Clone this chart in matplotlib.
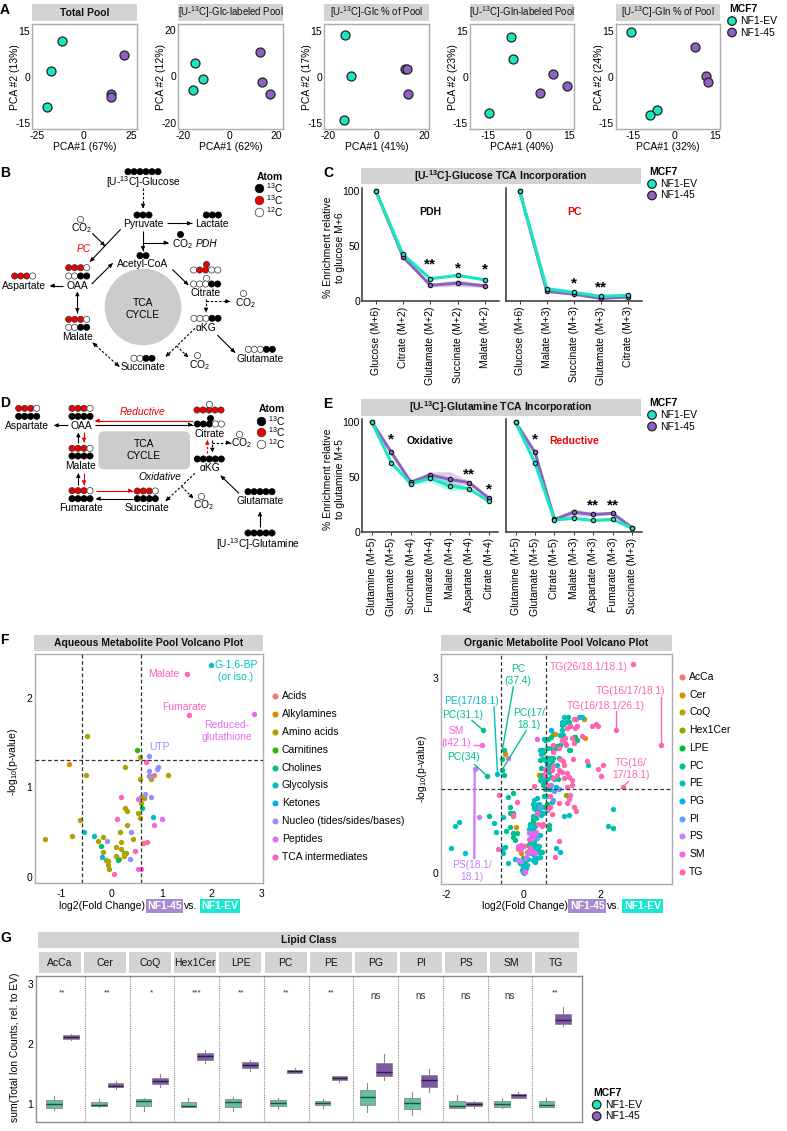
"""
Multi-panel figure: PCA plots, isotope tracing schematics, enrichment lines,
volcano plots and lipid class boxplots.
"""
import numpy as np
import matplotlib
matplotlib.use('Agg')
import matplotlib.pyplot as plt
from matplotlib.patches import Rectangle, Circle, FancyBboxPatch

plt.rcParams['font.family'] = ['Liberation Sans', 'DejaVu Sans']
plt.rcParams['mathtext.default'] = 'regular'
plt.rcParams['axes.unicode_minus'] = False

W, H = 787, 1131
EV_COLOR = '#17E8C0'
KO_COLOR = '#8E62C2'
STRIP = '#D3D3D3'
FRAME = '#ADADAD'
FS = 7.5

# --- panel A: PCA scores (x: PCA#1, y: PCA#2) ---
pca_titles = ['Total Pool', '[U-$^{13}$C]-Glc-labeled Pool', '[U-$^{13}$C]-Glc % of Pool',
              '[U-$^{13}$C]-Gln-labeled Pool', '[U-$^{13}$C]-Gln % of Pool']
pca_xlabels = ['PCA#1 (67%)', 'PCA#1 (62%)', 'PCA#1 (41%)', 'PCA#1 (40%)', 'PCA#1 (32%)']
pca_ylabels = ['PCA #2 (13%)', 'PCA #2 (12%)', 'PCA #2 (17%)', 'PCA #2 (23%)', 'PCA #2 (24%)']
pca_xticks = [[-25, 0, 25], [-20, 0, 20], [-20, 0, 20], [-15, 0, 15], [-15, 0, 15]]
pca_yticks = [[-15, 0, 15], [-20, 0, 20], [-15, 0, 15], [-15, 0, 15], [-15, 0, 15]]
pca_xlims = [(-27.5, 28), (-22.1, 22.6), (-21.8, 22), (-21.7, 16.9), (-21.3, 16.8)]
pca_ylims = [(-16.8, 17), (-22.6, 22.3), (-17, 17), (-17, 17), (-17, 17)]
pca_ev_x = [[-11.5, -17.4, -19.7], [-15, -11.6, -15.6], [-13.1, -10.4, -13.6],
            [-6.4, -5.8, -14.8], [-15.7, -6.3, -8.6]]
pca_ev_y = [[11.8, 1.9, -9.6], [5.6, -1, -6], [13.5, 0.3, -14],
            [12.8, 5.8, -11.8], [14.6, -10.8, -12.4]]
pca_ko_x = [[21.1, 14.5, 14.5], [13.1, 13.6, 17.1], [12.0, 13.0, 13.2],
            [9.1, 14.3, 4.1], [7.8, 11.8, 12.4]]
pca_ko_y = [[7.2, -5.5, -6.4], [10.6, -2.3, -7.6], [2.5, 2.5, -5.5],
            [0.8, -3, -5.2], [9.7, 0.2, -1.8]]

# --- panels C, E: enrichment ---
c_pdh_labels = ['Glucose (M+6)', 'Citrate (M+2)', 'Glutamate (M+2)', 'Succinate (M+2)', 'Malate (M+2)']
c_pdh_ev = [100, 42, 20, 23, 19]
c_pdh_ko = [100, 40, 14, 16, 13.5]
c_pdh_ev_err = [0, 1.5, 1, 1, 1]
c_pdh_ko_err = [0, 2.5, 1.5, 3, 1.5]
c_pdh_stars = ['', '', '**', '*', '*']
c_pdh_star_y = [0, 0, 33, 29.7, 28]

c_pc_labels = ['Glucose (M+6)', 'Malate (M+3)', 'Succinate (M+3)', 'Glutamate (M+3)', 'Citrate (M+3)']
c_pc_ev = [100, 11, 7.5, 4, 5]
c_pc_ko = [100, 8.5, 6, 2, 3.5]
c_pc_ev_err = [0, 1.5, 0.8, 0.5, 0.5]
c_pc_ko_err = [0, 1, 0.8, 0.5, 0.5]
c_pc_stars = ['', '', '*', '**', '']
c_pc_star_y = [0, 0, 15.8, 11.8, 0]

e_ox_labels = ['Glutamine (M+5)', 'Glutamate (M+5)', 'Succinate (M+4)', 'Fumarate (M+4)',
               'Malate (M+4)', 'Aspartate (M+4)', 'Citrate (M+4)']
e_ox_ev = [100, 63, 44, 49, 42, 39.5, 28]
e_ox_ko = [100, 72.5, 45.5, 52, 48, 45, 31]
e_ox_ev_err = [0, 1, 1, 3.5, 4.5, 1, 1]
e_ox_ko_err = [0, 1, 1, 3, 7, 1.5, 1]
e_ox_stars = ['', '*', '', '', '', '**', '*']
e_ox_star_y = [0, 84, 0, 0, 0, 52, 39]

e_red_labels = ['Glutamine (M+5)', 'Glutamate (M+5)', 'Citrate (M+5)', 'Malate (M+3)',
                'Aspartate (M+3)', 'Fumarate (M+3)', 'Succinate (M+3)']
e_red_ev = [100, 63, 11, 12.5, 10.5, 11.5, 3.5]
e_red_ko = [100, 72.5, 11.5, 18, 16, 17, 4]
e_red_ev_err = [0, 1, 1, 1, 1, 1, 0.5]
e_red_ko_err = [0, 1, 1, 3.5, 1.5, 1, 0.5]
e_red_stars = ['', '*', '', '', '**', '**', '']
e_red_star_y = [0, 84, 0, 0, 24.3, 24.3, 0]

# --- panel F: aqueous volcano (log2 FC, -log10 p) ---
aq_names = ['Acids', 'Alkylamines', 'Amino acids', 'Carnitines', 'Cholines', 'Glycolysis',
            'Ketones', 'Nucleo (tides/sides/bases)', 'Peptides', 'TCA intermediates']
aq_colors = ['#F8766D', '#DB8E00', '#AEA200', '#2CB600', '#00BF7D', '#00BFC4',
             '#00B0F6', '#9590FF', '#E76BF3', '#FF62BC']
aq_acids = [(.84, 1.13), (.62, .37)]
aq_alkyl = [(-.85, 1.26)]
aq_amino = [(-.50, 1.57), (.57, 1.34), (.27, 1.22), (-.51, 1.13), (.56, 1.09), (.79, 1.09),
            (1.13, 1.13), (.75, 1.12), (.59, .89), (.65, .88), (.59, .82), (.26, .77),
            (.31, .73), (.53, .71), (.57, .65), (-.63, .63), (.31, .58), (-1.33, .42),
            (-.79, .45), (.17, .50), (-.17, .44), (-.27, .40), (.18, .39), (.42, .42),
            (.09, .33), (.18, .31), (-.17, .27), (.25, .26), (.29, .26), (.24, .23),
            (.09, .23), (.15, .20), (-.11, .18), (-.07, .17), (-.07, .13), (-.05, .09)]
aq_carn = [(.50, 1.41)]
aq_chol = [(.61, .77), (-.22, .34), (.13, .19)]
aq_glyc = [(1.98, 2.37), (.83, .67), (-.55, .50), (-.36, .45)]
aq_ket = [(-.19, .22)]
aq_nucl = [(.75, 1.35), (.74, 1.18), (.92, 1.22), (.91, 1.20), (.76, 1.12), (.66, .92),
           (.79, .89), (.38, .50), (-.09, .40), (.37, .20)]
aq_pept = [(2.84, 1.82), (.52, .87), (1.01, .64), (.85, .58), (.53, .09)]
aq_tca = [(1.51, 2.26), (1.55, 1.81), (.69, 1.28), (.18, .89), (.11, .64), (.70, .39),
          (.47, .29), (.05, .03), (.58, .08)]
aq_groups = [aq_acids, aq_alkyl, aq_amino, aq_carn, aq_chol, aq_glyc, aq_ket, aq_nucl, aq_pept, aq_tca]

# --- panel F: organic volcano ---
org_names = ['AcCa', 'Cer', 'CoQ', 'Hex1Cer', 'LPE', 'PC', 'PE', 'PG', 'PI', 'PS', 'SM', 'TG']
org_colors = ['#F8766D', '#DE8C00', '#B79F00', '#7CAE00', '#00BA38', '#00C08B', '#00BFC4',
              '#00B4F0', '#619CFF', '#C77CFF', '#F564E3', '#FF64B0']
org_acca = [(.54, 1.41), (-.13, .37)]
org_cer = [(-.48, 1.83), (1.56, 2.38), (1.21, 2.27), (.78, 2.14), (1.60, 2.08), (-.19, .71),
           (-.26, .88), (-.13, .39), (-.05, .30), (.10, .32), (0, .11), (.62, 1.77),
           (.60, 1.29), (.41, 1.51)]
org_coq = [(1.57, 2.37), (.82, 2.14), (.48, 1.41), (.52, 1.41), (.41, 1.51), (.60, 1.74)]
org_hex = [(1.10, 1.20), (.56, 1.41), (.13, .43), (.16, .34), (0, .10), (.60, 1.77)]
org_lpe = [(.60, 1.77), (.85, 1.93), (1.34, 2.09), (.60, 1.06), (-.10, .16)]
org_pc = [(-1.04, 2.20), (-.95, 1.50), (-.49, 1.89), (-.56, 1.75), (-.5, 1.51), (-.56, 1.58),
          (-.89, .88), (2.31, .70), (1.02, 2.30), (1.15, 2.40), (1.38, 2.05), (1.18, 1.89),
          (.72, 1.92), (.65, 2.06), (.84, 1.95), (.48, 1.90), (.91, 1.77), (.78, 1.77),
          (.43, 1.74), (.60, 1.66), (.69, 1.66), (.48, 1.51), (.62, 1.45), (.50, 1.36),
          (.54, 1.19), (-.41, 1.17), (-.27, 1.24), (-.35, 1.01), (-.35, .92), (-.26, .92),
          (-.35, .71), (-.45, .64), (-.26, .61), (-.17, .61), (-.26, .56), (-.22, .51),
          (.17, .76), (.22, .69), (.67, .74), (.67, .68), (.36, .41), (.22, .41), (-.48, .40),
          (.13, .33), (0, .23), (.04, .15), (0, .10), (-.04, .05), (.48, .33), (.36, 1.05),
          (.28, 1), (.52, 1.02), (.26, .79), (.17, .64), (.99, 2.28), (1.18, 2.33),
          (.72, 2.10), (.56, 2.05), (.50, 1.85), (.66, 1.55), (.75, 1.73), (.30, .55),
          (.18, .50), (.28, .35), (.34, .85), (.38, .92), (.24, .83), (.20, .60), (.28, .48),
          (.38, .36), (.46, 1.62), (.52, 1.75), (.68, 1.30), (.72, 1.48), (.90, 1.45),
          (1.20, 1.90), (.95, 1.98), (1.30, 2.10), (1.02, 2.12), (.62, 1.92)]
org_pe = [(-.67, 1.53), (-1.88, .39), (-1.50, .31), (-1.77, .72), (-1.66, .79), (-.76, .77),
          (-.71, .63), (-.52, .87), (-.40, .16), (-.52, .30), (-.21, .21), (2.33, .99),
          (2.19, .73), (1.68, 1.67), (1.04, 2.40), (1.43, 2.40), (1.51, 2.40), (.99, 2.20),
          (.54, 2.06), (.43, 1.90), (.45, 1.84), (.59, 1.72), (.60, 1.56), (.69, 1.77),
          (.86, 1.66), (.54, 1.43), (.44, 1.43), (.28, 1.12), (.35, 1.15), (.24, 1.07),
          (.41, 1.07), (.60, .97), (.46, .89), (1.05, .88), (1.17, .89), (.35, .95),
          (.26, .88), (.16, .74), (.31, .73), (.84, .39), (.41, .41), (.35, .38), (.28, .28),
          (.09, .12), (.04, .05), (0, .02), (-.02, .07), (.17, .41), (-.52, .38), (.41, .32),
          (.35, .23), (.75, 1.10), (.80, 1.45), (.58, 1.18), (1.0, 2.32), (.22, .55),
          (.24, .20), (.30, .17), (-.05, .15), (.02, .06), (.30, .62), (.24, .66), (.43, .58),
          (.40, .95), (.30, .98), (.50, .92), (.14, .68), (.20, .30), (.30, .38), (.42, .25),
          (.12, .22), (.08, .08), (.56, 1.30), (.70, 1.60), (.76, 1.90), (.95, 2.12), (1.10, 2.32)]
org_pg = [(.71, 2.20), (.95, .33), (.02, 0), (.85, 1.32)]
org_pi = [(.72, 1.36), (.91, 1.30), (.78, 1.12), (.35, .54), (.43, 1.01), (.80, 1.27), (.02, .03)]
org_ps = [(-1.26, 1.61), (-1.16, .86), (-.13, .20), (-.07, .19), (.22, .53), (.13, .30),
          (.15, .62), (.03, .02), (-.05, .38), (.28, .32), (.08, .24)]
org_sm = [(-1.08, 1.97), (.35, 2.06), (-.41, 1.77), (.26, .61), (.33, .63), (-.13, .41),
          (-.07, .43), (.22, .33), (.17, .38), (.26, .58), (-.09, .35), (.04, .01), (.56, 1.60),
          (.14, .34), (.15, .52), (.02, .42), (.30, .30)]
org_tg = [(2.83, 3.22), (2.41, 2.20), (3.57, 1.97), (2.57, 1.32), (1.77, 2.27), (1.88, 2.30),
          (1.94, 2.26), (1.52, 2.11), (1.25, 2.08), (1.08, 2.08), (1.34, 2.23), (1.38, 2.27),
          (1.31, 2.38), (1.37, 2.38), (1.21, 2.27), (1.12, 2.23), (.99, 2.05), (.78, 1.98),
          (1.08, 2.01), (.91, 1.92), (.78, 1.87), (1.28, 1.76), (2.07, 1.66), (1.93, 1.60),
          (2.0, 1.5), (1.66, 1.72), (1.04, 1.66), (.91, 1.58), (1.0, 1.56), (.78, 1.65),
          (.75, 1.58), (1.12, 1.54), (1.17, 1.48), (1.25, 1.43), (1.04, 1.46), (.86, 1.51),
          (.78, 1.46), (.56, 1.58), (.56, 1.51), (.28, 1.34), (.63, 1.35), (1.25, 1.36),
          (1.12, 1.33), (1.21, 1.20), (1.19, 1.14), (1.12, 1.08), (.91, 1.08), (1.32, 1.02),
          (1.35, .95), (.69, 1.02), (.64, .99), (.73, .91), (-.17, 1.10), (-.62, 1.20),
          (.52, .76), (.37, .76), (.93, .49), (.81, .24), (-.66, .37), (-.26, .89), (.70, 1.18),
          (1.10, 1.98), (1.30, 2.0), (.95, 1.75), (1.02, 1.72), (.35, .92), (.48, .72)]
org_groups = [org_acca, org_cer, org_coq, org_hex, org_lpe, org_pc, org_pe, org_pg, org_pi,
              org_ps, org_sm, org_tg]

# --- panel G: lipid class boxes (low whisker, q1, median, q3, high whisker) ---
lipid_classes = org_names
lipid_sig = ['**', '**', '*', '***', '**', '**', '**', 'ns', 'ns', 'ns', 'ns', '**']
lipid_ev = [(.89, .93, 1.0, 1.06, 1.12), (.94, .96, .98, 1.03, 1.08), (.88, .96, 1.04, 1.07, 1.09),
            (.95, .95, .96, 1.03, 1.10), (.88, .94, 1.03, 1.07, 1.11), (.91, .96, 1.01, 1.06, 1.09),
            (.93, .97, 1.01, 1.04, 1.07), (.86, .98, 1.11, 1.22, 1.34), (.81, .91, 1.01, 1.10, 1.19),
            (.92, .93, .96, 1.05, 1.14), (.92, .95, .99, 1.04, 1.09), (.94, .95, .97, 1.04, 1.09)]
lipid_ko = [(2.06, 2.08, 2.11, 2.14, 2.16), (1.25, 1.27, 1.29, 1.34, 1.37), (1.28, 1.32, 1.38, 1.43, 1.49),
            (1.67, 1.73, 1.79, 1.84, 1.89), (1.54, 1.59, 1.65, 1.69, 1.73), (1.51, 1.51, 1.54, 1.56, 1.60),
            (1.36, 1.40, 1.43, 1.46, 1.46), (1.40, 1.46, 1.52, 1.67, 1.82), (1.19, 1.28, 1.39, 1.48, 1.58),
            (.93, .96, .99, 1.02, 1.04), (1.09, 1.10, 1.14, 1.16, 1.19), (2.29, 2.33, 2.39, 2.50, 2.61)]

fig = plt.figure(figsize=(W / 100, H / 100), dpi=100)


def make_axes(x0, y0, x1, y1):
    return fig.add_axes([x0 / W, 1 - y1 / H, (x1 - x0) / W, (y1 - y0) / H])


# overlay in pixel coordinates for strips, legends, schematics
over = fig.add_axes([0, 0, 1, 1], zorder=5)
over.set_xlim(0, W)
over.set_ylim(H, 0)
over.axis('off')


def strip(x0, y0, x1, y1, text, size=FS, weight='normal'):
    over.add_patch(Rectangle((x0, y0), x1 - x0, y1 - y0, fc=STRIP, ec='none', zorder=0))
    over.text((x0 + x1) / 2, (y0 + y1) / 2, text, ha='center', va='center',
              fontsize=size, weight=weight, color='#111111')


def mcf_legend(x, y):
    over.text(x - 3, y, 'MCF7', fontsize=FS, weight='bold', va='center')
    over.scatter([x, x], [y + 12, y + 23.5], s=38, c=[EV_COLOR, KO_COLOR], edgecolors='#222222', linewidths=0.9)
    over.text(x + 8, y + 12, 'NF1-EV', fontsize=FS, va='center')
    over.text(x + 8, y + 23.5, 'NF1-45', fontsize=FS, va='center')


for lab, lx, ly in [('A', 0, 10), ('B', 0, 173), ('C', 323, 173), ('D', 0, 403), ('E', 323, 404),
                    ('F', 0, 640), ('G', 0, 938)]:
    over.text(lx, ly, lab, fontsize=10, weight='bold', va='center', ha='left')

# panel A
pca_x0 = [32.3, 178.3, 324.3, 470, 615.7]
for i in range(5):
    x0 = pca_x0[i]
    x1 = x0 + 104.3
    strip(x0, 4, x1, 21, pca_titles[i], size=FS if i == 0 else 6.95, weight='bold' if i == 0 else 'normal')
    ax = make_axes(x0, 24.5, x1, 129)
    ax.scatter(pca_ev_x[i], pca_ev_y[i], s=42, c=EV_COLOR, edgecolors='#222222', linewidths=0.9, zorder=3)
    ax.scatter(pca_ko_x[i], pca_ko_y[i], s=42, c=KO_COLOR, edgecolors='#222222', linewidths=0.9, zorder=3)
    ax.set_xlim(*pca_xlims[i])
    ax.set_ylim(*pca_ylims[i])
    ax.set_xticks(pca_xticks[i])
    ax.set_yticks(pca_yticks[i])
    ax.tick_params(length=0, pad=1.5, labelsize=FS)
    for s in ax.spines.values():
        s.set_color(FRAME)
        s.set_linewidth(1)
    ax.set_xlabel(pca_xlabels[i], fontsize=FS, va='center')
    ax.set_ylabel(pca_ylabels[i], fontsize=FS, va='center')
    ax.xaxis.set_label_coords(0.5, -18.5 / 104.5)
    ax.yaxis.set_label_coords(-17 / 104.3, 0.5)
mcf_legend(732, 9)


def arrow(x0, y0, x1, y1, color='black', dashed=False, both=False):
    ls = (0, (2.2, 1.6)) if dashed else '-'
    over.plot([x0, x1], [y0, y1], color=color, lw=0.8, ls=ls, solid_capstyle='butt')
    ends = [(x0, y0, x1, y1)]
    if both:
        ends.append((x1, y1, x0, y0))
    for a, b, c, d in ends:
        n = np.hypot(c - a, d - b)
        ux, uy = (c - a) / n, (d - b) / n
        over.annotate('', xy=(c, d), xytext=(c - ux * 3, d - uy * 3),
                      arrowprops=dict(arrowstyle='-|>', mutation_scale=6, lw=0.6, color=color,
                                      shrinkA=0, shrinkB=0))


def atoms(rows, ox, oy, size=20, step=6):
    colors = {'K': 'black', 'R': '#EE0000', 'W': 'white'}
    for zx, zy, pattern in rows:
        xs = [ox + zx / 3 + step * n for n in range(len(pattern))]
        ys = [oy + zy / 3] * len(pattern)
        over.scatter(xs, ys, s=size, c=[colors[p] for p in pattern],
                     edgecolors=['#333333' if p != 'K' else 'black' for p in pattern],
                     linewidths=0.5, zorder=4)


def labels(rows, ox, oy):
    for zx, zy, text, *style in rows:
        kw = style[0] if style else {}
        over.text(ox + zx / 3, oy + zy / 3, text, ha='center', va='center', fontsize=7.4,
                  zorder=5, **kw)


# panel B
over.add_patch(Circle((429 / 3, 160 + 441 / 3), 115 / 3, fc='#CCCCCC', ec='none', zorder=1))
atoms([(384, 35, 'KKKKKK'), (411, 165, 'KKK'), (619, 165, 'KKK'), (239, 176, 'W'), (541, 223, 'K'),
       (420, 287, 'KK'), (617, 311, 'R'), (581, 330, 'WRRWW'), (617, 353, 'W'), (581, 372, 'WWWKK'),
       (730, 400, 'W'), (582, 475, 'WWWKK'), (745, 568, 'WWWKK'), (592, 585, 'W'), (402, 595, 'WWKK'),
       (206, 323, 'RRRW'), (206, 348, 'WWKK'), (44, 348, 'RRRW'), (206, 478, 'RRRW'),
       (206, 502, 'WWKK')], 0, 160)
atoms([(776, 85, 'K'), (776, 120, 'R'), (776, 155, 'W')], 0, 160, size=38)
labels([(430, 66, '[U-$^{13}$C]-Glucose'), (429, 192, 'Pyruvate'), (637, 192, 'Lactate'),
        (245, 205, 'CO$_2$'), (547, 251, 'CO$_2$'), (620, 251, 'PDH', {'style': 'italic'}),
        (250, 268, 'PC', {'style': 'italic', 'color': '#EE0000'}), (429, 312, 'Acetyl-CoA'),
        (618, 400, 'Citrate'), (736, 428, 'CO$_2$'), (618, 503, 'αKG'), (781, 597, 'Glutamate'),
        (598, 615, 'CO$_2$'), (429, 622, 'Succinate'), (232, 377, 'OAA'), (71, 377, 'Aspartate'),
        (232, 530, 'Malate'), (810, 50, 'Atom', {'weight': 'bold'}), (825, 85, '$^{13}$C'),
        (825, 120, '$^{13}$C'), (825, 155, '$^{12}$C'), (429, 447, 'TCA\nCYCLE')], 0, 160)
b_arrows = [(429, 85, 429, 145, True, False), (500, 190, 575, 190, False, False),
            (362, 208, 270, 305, False, False), (277, 220, 315, 258, False, False),
            (429, 212, 429, 272, False, False), (429, 248, 505, 248, False, False),
            (275, 372, 338, 310, False, False), (517, 328, 565, 375, False, False),
            (618, 418, 618, 457, True, False), (618, 424, 690, 424, True, False),
            (232, 395, 232, 458, False, True), (585, 505, 497, 590, True, False),
            (530, 558, 565, 592, True, False), (652, 525, 705, 578, False, False),
            (278, 548, 358, 620, True, True), (190, 377, 150, 377, False, False)]
for a, b, c, d, dash, both in b_arrows:
    arrow(a / 3, 160 + b / 3, c / 3, 160 + d / 3, dashed=dash, both=both)

# panel D
over.add_patch(FancyBboxPatch((295 / 3, 390 + 124 / 3), 275 / 3, 114 / 3, boxstyle='round,pad=0,rounding_size=6',
                              fc='#CCCCCC', ec='none', zorder=1))
atoms([(56, 55, 'RRRW'), (56, 79, 'KKKK'), (216, 55, 'RRRW'), (216, 79, 'KKKK'), (216, 175, 'RRRW'),
       (216, 198, 'KKKK'), (216, 302, 'RRRW'), (216, 326, 'KKKK'), (412, 303, 'RRRW'), (412, 326, 'KKKK'),
       (591, 60, 'RRRRR'), (628, 41, 'W'), (592, 102, 'KKKWW'), (630, 84, 'K'), (592, 207, 'KKKKK'),
       (744, 305, 'KKKKK'), (744, 429, 'KKKKK'), (718, 132, 'W'), (603, 317, 'W')], 0, 390)
atoms([(782, 92, 'K'), (782, 127, 'R'), (782, 163, 'W')], 0, 390, size=38)
labels([(82, 108, 'Aspartate'), (243, 108, 'OAA'), (427, 67, 'Reductive', {'style': 'italic', 'color': '#EE0000'}),
        (630, 131, 'Citrate'), (725, 160, 'CO$_2$'), (431, 180, 'TCA\nCYCLE'), (243, 228, 'Malate'),
        (630, 234, 'αKG'), (480, 262, 'Oxidative', {'style': 'italic'}), (780, 333, 'Glutamate'),
        (243, 354, 'Fumarate'), (440, 354, 'Succinate'), (610, 345, 'CO$_2$'),
        (773, 462, '[U-$^{13}$C]-Glutamine'), (815, 58, 'Atom', {'weight': 'bold'}),
        (830, 92, '$^{13}$C'), (830, 127, '$^{13}$C'), (830, 163, '$^{12}$C')], 0, 390)
d_arrows = [(205, 106, 162, 106, 'black', False), (578, 92, 285, 92, '#EE0000', False),
            (285, 104, 578, 104, 'black', False), (235, 158, 235, 128, 'black', False),
            (252, 125, 252, 157, '#EE0000', False), (235, 285, 235, 250, 'black', False),
            (252, 248, 252, 285, '#EE0000', False), (288, 302, 398, 302, '#EE0000', False),
            (398, 326, 288, 326, 'black', False), (622, 188, 622, 150, '#EE0000', True),
            (637, 150, 637, 187, 'black', True), (637, 158, 692, 158, 'black', True),
            (585, 250, 497, 333, 'black', True), (545, 290, 580, 325, 'black', True),
            (717, 310, 662, 257, 'black', False), (780, 410, 780, 365, 'black', False)]
for a, b, c, d, col, dash in d_arrows:
    arrow(a / 3, 390 + b / 3, c / 3, 390 + d / 3, color=col, dashed=dash)


def enrichment(x0, x1, y_top, y_zero, y_100, names, ev, ko, ev_err, ko_err, stars, star_y, show_y):
    ax = make_axes(x0, y_top, x1, y_zero)
    pos = np.arange(len(names))
    ev, ko, ev_err, ko_err = map(np.array, (ev, ko, ev_err, ko_err))
    ax.fill_between(pos, ko - ko_err, ko + ko_err, color=KO_COLOR, alpha=0.3, lw=0)
    ax.fill_between(pos, ev - ev_err, ev + ev_err, color=EV_COLOR, alpha=0.3, lw=0)
    ax.plot(pos, ko, color=KO_COLOR, lw=2.2, solid_capstyle='round')
    ax.plot(pos, ev, color=EV_COLOR, lw=2.2, solid_capstyle='round')
    ax.scatter(pos, ko, s=10, c=KO_COLOR, edgecolors='#111111', linewidths=0.8, zorder=4, clip_on=False)
    ax.scatter(pos, ev, s=10, c=EV_COLOR, edgecolors='#111111', linewidths=0.8, zorder=5, clip_on=False)
    for p, st, sy in zip(pos, stars, star_y):
        if st:
            ax.text(p, sy, st, ha='center', va='center', fontsize=11, weight='bold')
    ax.set_xlim(-0.5, len(names) - 0.5)
    ax.set_ylim(0, 100 * (y_zero - y_top) / (y_zero - y_100))
    ax.set_xticks(pos)
    ax.set_xticklabels(names, rotation=90, fontsize=FS)
    ax.spines['top'].set_visible(False)
    ax.spines['right'].set_visible(False)
    for s in ('left', 'bottom'):
        ax.spines[s].set_color('#333333')
        ax.spines[s].set_linewidth(1.1)
    ax.tick_params(axis='x', length=2, pad=2, width=0.7, color='#333333')
    if show_y:
        ax.set_yticks([0, 50, 100])
        ax.tick_params(axis='y', length=0, pad=1.5, labelsize=FS)
    else:
        ax.set_yticks([])
    ax.patch.set_alpha(0)
    return ax


# panel C
strip(361, 168, 641, 184, '[U-$^{13}$C]-Glucose TCA Incorporation', weight='bold')
ax = enrichment(362, 498.7, 188, 300.7, 190.7, c_pdh_labels, c_pdh_ev, c_pdh_ko, c_pdh_ev_err,
                c_pdh_ko_err, c_pdh_stars, c_pdh_star_y, True)
ax.text(2, 80.6, 'PDH', ha='center', va='center', fontsize=FS, weight='bold')
ax.set_ylabel('% Enrichment relative\nto glucose M+6', fontsize=FS, va='center', linespacing=1.15)
ax.yaxis.set_label_coords((334 - 362) / 136.7, 0.47)
ax = enrichment(506, 642, 188, 300.7, 190.7, c_pc_labels, c_pc_ev, c_pc_ko, c_pc_ev_err,
                c_pc_ko_err, c_pc_stars, c_pc_star_y, False)
ax.text(2, 80.6, 'PC', ha='center', va='center', fontsize=FS, weight='bold', color='#EE0000')
mcf_legend(652, 172)

# panel E
strip(361, 399.3, 641, 415.7, '[U-$^{13}$C]-Glutamine TCA Incorporation', weight='bold')
ax = enrichment(362, 498.3, 419, 532, 422.3, e_ox_labels, e_ox_ev, e_ox_ko, e_ox_ev_err,
                e_ox_ko_err, e_ox_stars, e_ox_star_y, True)
ax.set_xlim(-0.51, 6.5)
ax.text(3, 83, 'Oxidative', ha='center', va='center', fontsize=FS, weight='bold')
ax.set_ylabel('% Enrichment relative\nto glutamine M+5', fontsize=FS, va='center', linespacing=1.15)
ax.yaxis.set_label_coords((334 - 362) / 136.3, 0.47)
ax = enrichment(505.7, 641.7, 419, 532, 422.3, e_red_labels, e_red_ev, e_red_ko, e_red_ev_err,
                e_red_ko_err, e_red_stars, e_red_star_y, False)
ax.set_xlim(-0.51, 6.5)
ax.text(3, 83, 'Reductive', ha='center', va='center', fontsize=FS, weight='bold', color='#EE0000')
mcf_legend(652, 403)


def volcano(box, xlim, ylim, xticks, yticks, groups, colors, names, leg_x, leg_y, leg_step):
    ax = make_axes(*box)
    for g, col, name in zip(groups, colors, names):
        pts = np.array(g)
        ax.scatter(pts[:, 0], pts[:, 1], s=15, c=col, lw=0, zorder=3, label=name)
        over.scatter([leg_x], [leg_y], s=19, c=col, lw=0)
        over.text(leg_x + 7, leg_y, name, fontsize=FS, va='center')
        leg_y += leg_step
    ax.axvline(-0.585, color='#333333', lw=0.9, ls=(0, (3, 2)), zorder=4)
    ax.axvline(0.585, color='#333333', lw=0.9, ls=(0, (3, 2)), zorder=4)
    ax.axhline(1.3, color='#333333', lw=0.9, ls=(0, (3, 2)), zorder=4)
    ax.set_xlim(*xlim)
    ax.set_ylim(*ylim)
    ax.set_xticks(xticks)
    ax.set_yticks(yticks)
    ax.tick_params(length=0, pad=4, labelsize=FS)
    ax.tick_params(axis='y', pad=2)
    for s in ax.spines.values():
        s.set_color(FRAME)
        s.set_linewidth(1)
    return ax


def fold_label(x0, y):
    over.text(x0, y, 'log2(Fold Change)', fontsize=FS, va='center')
    over.text(x0 + 88.5, y, 'NF1-45', fontsize=FS, va='center', color='white', weight='bold', zorder=6,
              bbox=dict(fc='#A98BD0', ec='none', pad=1.2))
    over.text(x0 + 125.5, y, 'vs.', fontsize=FS, va='center')
    over.text(x0 + 142.5, y, 'NF1-EV', fontsize=FS, va='center', color='white', weight='bold', zorder=6,
              bbox=dict(fc='#17E8D0', ec='none', pad=1.2))


# panel F left
strip(34, 635, 263, 651, 'Aqueous Metabolite Pool Volcano Plot', weight='bold')
ax = volcano((35, 654.3, 263.3, 883.3), (-1.53, 3.03), (-0.075, 2.484), [-1, 0, 1, 2, 3], [0, 1, 2],
             aq_groups, aq_colors, aq_names, 274.7, 695.7, 17.95)
ax.set_ylabel('-log$_{10}$(p-value)', fontsize=FS, va='center')
ax.yaxis.set_label_coords((13 - 35) / 228.3, 0.53)
fold_label(58.7, 906)
for (tx, ty, txt, col) in [(2.48, 2.30, 'G-1,6-BP\n(or iso.)', '#00BFC4'), (1.05, 2.26, 'Malate', '#FF62BC'),
                           (1.45, 1.90, 'Fumarate', '#FF62BC'), (2.3, 1.63, 'Reduced-\nglutathione', '#E76BF3'),
                           (0.96, 1.45, 'UTP', '#9590FF')]:
    ax.text(tx, ty, txt, color=col, ha='center', va='center', fontsize=FS, linespacing=1.25, zorder=6)

# panel F right
strip(440.7, 635, 671.7, 651, 'Organic Metabolite Pool Volcano Plot', weight='bold')
ax = volcano((440.7, 653.7, 671.7, 884.3), (-2.14, 3.84), (-0.175, 3.38), [-2, 0, 2], [0, 3],
             org_groups, org_colors, org_names, 682.3, 677, 17.72)
ax.set_ylabel('-log$_{10}$(p-value)', fontsize=FS, va='center')
ax.yaxis.set_label_coords((421.7 - 440.7) / 231, 0.5)
fold_label(481.5, 906)

PC_C, PE_C, SM_C, TG_C, PS_C = org_colors[5], org_colors[6], org_colors[10], org_colors[11], org_colors[9]
org_notes = [('PC\n(37.4)', -.14, 3.05, PC_C, (-.26, 2.87), (-.54, 1.91)),
             ('TG(26/18.1/18.1)', 1.70, 3.18, TG_C, None, None),
             ('TG(16/17/18.1)', 2.78, 2.80, TG_C, (3.57, 2.72), (3.57, 1.99)),
             ('TG(16/18.1/26.1)', 2.13, 2.57, TG_C, (2.41, 2.50), (2.41, 2.22)),
             ('PE(17/18.1)', -1.33, 2.65, PE_C, (-.76, 2.56), (-.67, 1.55)),
             ('PC(31.1)', -1.57, 2.43, PC_C, (-1.33, 2.35), (-1.04, 2.20)),
             ('PC(17/\n18.1)', .14, 2.37, PC_C, (.07, 2.19), (-.56, 1.58)),
             ('SM\n(t42.1)', -1.73, 2.10, SM_C, (-1.29, 1.97), (-1.10, 1.97)),
             ('PC(34)', -1.54, 1.78, PC_C, (-1.26, 1.67), (-.95, 1.50)),
             ('TG(16/\n17/18.1)', 2.78, 1.61, TG_C, (2.72, 1.41), (2.57, 1.32)),
             ('PS(18.1/\n18.1)', -1.34, .03, PS_C, (-1.27, .23), (-1.26, 1.61))]
for txt, tx, ty, col, p0, p1 in org_notes:
    ax.text(tx, ty, txt, color=col, ha='center', va='center', fontsize=FS - 0.1, linespacing=1.25, zorder=6)
    if p0 is not None:
        ax.plot([p0[0], p1[0]], [p0[1], p1[1]], color=col, lw=1.6 if txt.startswith('PS') else 1, zorder=5)

# panel G
strip(38, 932.3, 578.7, 947.7, 'Lipid Class', weight='bold')
for i, name in enumerate(lipid_classes):
    cx = 180 + 135.3 * i
    strip(max(114, cx - 63) / 3, 952.3, (cx + 63) / 3, 973, name)
ax = make_axes(35.7, 976.3, 581.7, 1121.7)
ev_stats = [dict(whislo=a, q1=b, med=c, q3=d, whishi=e, fliers=[]) for a, b, c, d, e in lipid_ev]
ko_stats = [dict(whislo=a, q1=b, med=c, q3=d, whishi=e, fliers=[]) for a, b, c, d, e in lipid_ko]
centers = np.arange(len(lipid_classes))
for stats, off, col, med in [(ev_stats, -0.187, '#62BFA3', '#1F4D40'), (ko_stats, 0.187, '#7F58A9', '#2E1F40')]:
    art = ax.bxp(stats, positions=centers + off, widths=0.35, patch_artist=True, showcaps=False,
                 showfliers=False, manage_ticks=False,
                 boxprops=dict(edgecolor='#8A8A8A', linewidth=0.6),
                 medianprops=dict(color=med, linewidth=1),
                 whiskerprops=dict(color='#8A8A8A', linewidth=0.8))
    for b in art['boxes']:
        b.set_facecolor(col)
for c, sig in zip(centers, lipid_sig):
    if sig == 'ns':
        ax.text(c, 2.8, sig, ha='center', va='center', fontsize=FS - 0.5, color='#333333')
    else:
        ax.text(c, 2.84, sig, ha='center', va='center', fontsize=FS - 1.5, color='#333333')
    if c < len(centers) - 1:
        ax.axvline(c + 0.5, color='#888888', lw=0.8, ls=(0, (1, 1)))
ax.set_xlim(-0.597, 11.6)
ax.set_ylim(0.7, 3.12)
ax.set_xticks([])
ax.set_yticks([1, 2, 3])
ax.tick_params(length=0, pad=2, labelsize=FS)
for s in ax.spines.values():
    s.set_color('#8C8C8C')
    s.set_linewidth(1)
ax.set_ylabel('sum(Total Ion Counts, rel. to EV)', fontsize=FS, va='center')
ax.yaxis.set_label_coords((15 - 35.7) / 546, 0.51)
mcf_legend(596.7, 1092.7)

fig.savefig('out.png', dpi=100)
